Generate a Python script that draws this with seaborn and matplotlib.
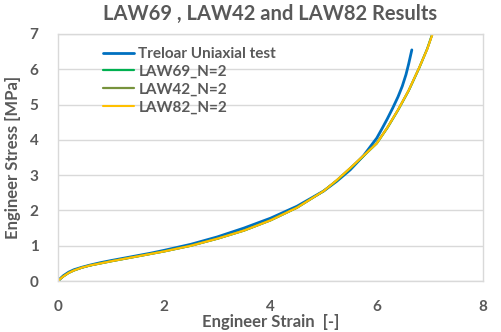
import numpy as np
import pandas as pd
import seaborn as sns
import matplotlib.pyplot as plt

# Treloar uniaxial test data
test_strain = [0, 0.05, 0.1, 0.2, 0.3, 0.45, 0.6, 0.8, 1.0, 1.25, 1.5, 1.75,
               2.0, 2.5, 3.0, 3.5, 4.0, 4.5, 5.0, 5.25, 5.5, 5.75, 6.0, 6.1,
               6.2, 6.3, 6.4, 6.48, 6.55, 6.6, 6.66]
test_stress = [0, 0.08, 0.15, 0.25, 0.32, 0.39, 0.45, 0.52, 0.58, 0.65, 0.72,
               0.79, 0.87, 1.04, 1.25, 1.50, 1.78, 2.12, 2.55, 2.83, 3.15,
               3.55, 4.05, 4.32, 4.60, 4.90, 5.22, 5.52, 5.85, 6.15, 6.55]

# Fitted model curves (N=2)
model_strain = [0, 0.05, 0.1, 0.2, 0.3, 0.45, 0.6, 0.8, 1.0, 1.25, 1.5, 1.75,
                2.0, 2.5, 3.0, 3.5, 4.0, 4.5, 5.0, 5.25, 5.5, 5.75, 6.0, 6.2,
                6.4, 6.6, 6.8, 6.95, 7.05, 7.2]
law69_stress = [0, 0.07, 0.13, 0.23, 0.30, 0.38, 0.44, 0.50, 0.56, 0.63, 0.70,
                0.77, 0.84, 1.00, 1.20, 1.43, 1.72, 2.08, 2.55, 2.85, 3.19,
                3.54, 3.90, 4.34, 4.84, 5.39, 6.04, 6.58, 7.02, 7.7]
law42_stress = [0, 0.07, 0.13, 0.23, 0.30, 0.38, 0.44, 0.50, 0.56, 0.63, 0.70,
                0.77, 0.84, 1.00, 1.20, 1.43, 1.72, 2.08, 2.55, 2.86, 3.20,
                3.55, 3.91, 4.35, 4.85, 5.40, 6.05, 6.58, 7.01, 7.7]
law82_stress = [0, 0.07, 0.13, 0.23, 0.30, 0.38, 0.44, 0.50, 0.56, 0.63, 0.70,
                0.77, 0.84, 1.00, 1.20, 1.43, 1.72, 2.08, 2.55, 2.86, 3.20,
                3.55, 3.90, 4.35, 4.85, 5.40, 6.05, 6.57, 7.00, 7.7]

series_names = ["Treloar Uniaxial test", "LAW69_N=2", "LAW42_N=2", "LAW82_N=2"]
series_colors = ["#0070C0", "#00B050", "#77933C", "#FFC000"]
series_widths = [2.0, 1.6, 1.6, 1.5]

frames = [pd.DataFrame({"strain": test_strain, "stress": test_stress,
                        "series": series_names[0]})]
for name, ys in zip(series_names[1:], [law69_stress, law42_stress, law82_stress]):
    frames.append(pd.DataFrame({"strain": model_strain, "stress": ys, "series": name}))
df = pd.concat(frames, ignore_index=True)

sns.set_theme(style="white")
plt.rcParams["font.family"] = ["Lato", "DejaVu Sans"]
text_color = "#595959"
grid_color = "#D9D9D9"

fig = plt.figure(figsize=(5.01, 3.32), dpi=100)
ax = fig.add_axes([0.1158, 0.1536, 0.8483, 0.744])

for name, color, lw in zip(series_names, series_colors, series_widths):
    sub = df[df["series"] == name]
    sns.lineplot(data=sub, x="strain", y="stress", color=color, linewidth=lw,
                 sort=False, estimator=None, label=name, ax=ax)

ax.set_xlim(0, 8)
ax.set_ylim(0, 7)
ax.set_xticks(range(0, 9, 2))
ax.set_yticks(range(0, 8))
ax.yaxis.grid(True, color=grid_color, linewidth=1.0)
ax.xaxis.grid(False)
ax.set_axisbelow(True)
for s in ax.spines.values():
    s.set_color(grid_color)
    s.set_linewidth(1.0)
ax.tick_params(length=0, pad=14, labelsize=11, labelcolor=text_color)
for lab in ax.get_xticklabels() + ax.get_yticklabels():
    lab.set_fontweight("bold")

ax.set_xlabel("Engineer Strain  [-]", fontsize=12, fontweight="bold",
              color=text_color, labelpad=0)
ax.set_ylabel("Engineer Stress [MPa]", fontsize=12, fontweight="bold",
              color=text_color, labelpad=6)
ax.set_title("LAW69 , LAW42 and LAW82 Results", fontsize=14.5, fontweight="bold",
             color=text_color, pad=10)

leg = ax.legend(loc="upper left", bbox_to_anchor=(0.085, 0.985), frameon=False,
                fontsize=11, handlelength=2.0, handletextpad=0.3,
                labelspacing=0.25, borderaxespad=0.2)
for t in leg.get_texts():
    t.set_fontweight("bold")
    t.set_color(text_color)

fig.savefig("out.png", dpi=100)
